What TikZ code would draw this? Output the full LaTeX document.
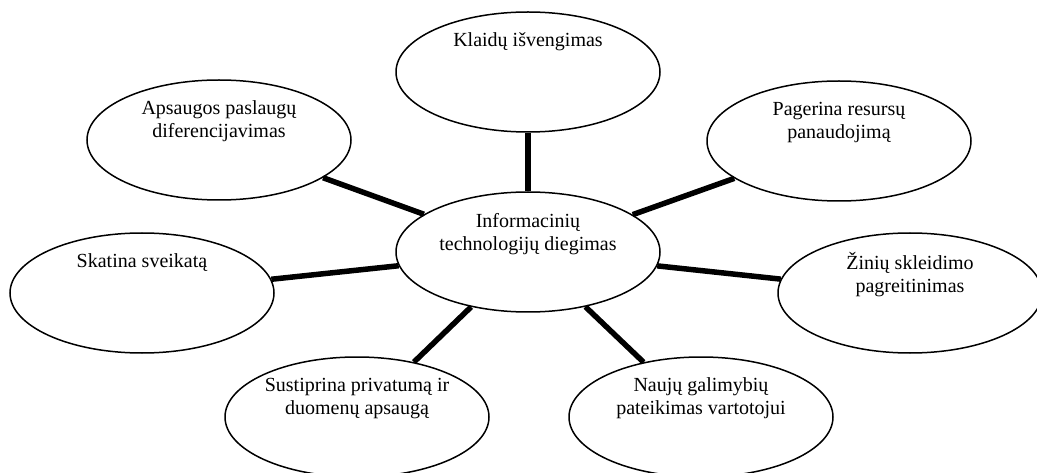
\documentclass[tikz,border=0pt]{standalone}
\usepackage{fontspec}
\setmainfont{Liberation Serif}
\usetikzlibrary{shapes.geometric, positioning}

\begin{document}
\begin{tikzpicture}[x=1pt, y=-1pt, line width=1.5pt]
	\tikzstyle{bubble}=[draw, ellipse, minimum width=264pt, minimum height=120pt, inner sep=0pt]
	\tikzstyle{txt}=[align=center, font=\fontsize{20}{23}\selectfont, inner sep=0pt]
	\tikzstyle{spoke}=[line width=5.5pt]
	\useasboundingbox (0,0) rectangle (1037,473);

	\node[bubble] (diegimas) at (528,252) {};
	\node[bubble] (klaidos) at (528,72) {};
	\node[bubble] (apsauga) at (219,140) {};
	\node[bubble] (sveikata) at (142,293) {};
	\node[bubble] (resursai) at (839,141) {};
	\node[bubble] (zinios) at (910,293) {};
	\node[bubble] (privatumas) at (357,417) {};
	\node[bubble] (galimybes) at (701,417) {};

	\node[txt, below=21pt of diegimas.north] {Informacinių\\technologijų diegimas};
	\node[txt, below=21pt of klaidos.north] {Klaidų išvengimas};
	\node[txt, below=21pt of apsauga.north] {Apsaugos paslaugų\\diferencijavimas};
	\node[txt, below=21pt of sveikata.north] {Skatina sveikatą};
	\node[txt, below=21pt of resursai.north] {Pagerina resursų\\panaudojimą};
	\node[txt, below=19pt of zinios.north] {Žinių skleidimo\\pagreitinimas};
	\node[txt, below=21pt of privatumas.north] {Sustiprina privatumą ir\\duomenų apsaugą};
	\node[txt, below=21pt of galimybes.north] {Naujų galimybių\\pateikimas vartotojui};

	\foreach \n in {klaidos, apsauga, sveikata, resursai, zinios, privatumas, galimybes}
		\draw[spoke] (diegimas) -- (\n);
\end{tikzpicture}
\end{document}
